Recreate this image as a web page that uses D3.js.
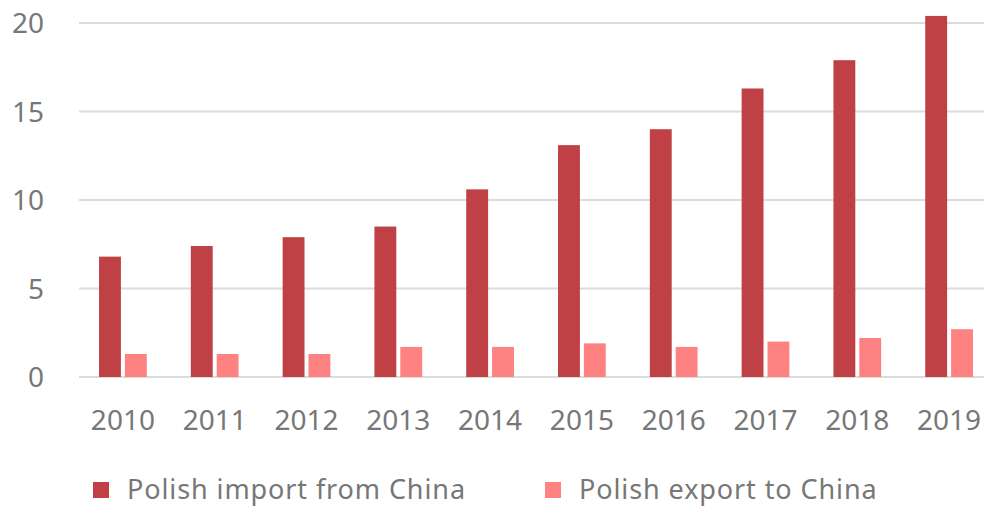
<!DOCTYPE html>
<html>
<head>
<meta charset="utf-8">
<script src="https://cdn.jsdelivr.net/npm/d3@7"></script>
<style>
    body { margin: 0; background: #fff; }
    text { font-family: "Noto Sans", "Open Sans", sans-serif; }
</style>
</head>
<body>
<div id="chart"></div>
<script>
const years = ["2010", "2011", "2012", "2013", "2014", "2015", "2016", "2017", "2018", "2019"];
const importFromChina = [6.8, 7.4, 7.9, 8.5, 10.6, 13.1, 14.0, 16.3, 17.9, 20.4];
const exportToChina = [1.3, 1.3, 1.3, 1.7, 1.7, 1.9, 1.7, 2.0, 2.2, 2.7];
const seriesNames = ["Polish import from China", "Polish export to China"];
const yTicks = [0, 5, 10, 15, 20];

let width = 984, height = 506;
let margin = { top: 23, bottom: 129, left: 77, right: -11 };

const colors = ["#bf4146", "#ff8282"];

const svg = d3.select("#chart")
    .append("svg")
    .attr("width", width)
    .attr("height", height);

const rows = years.map((y, i) => ({ year: y, values: [importFromChina[i], exportToChina[i]] }));

const x0 = d3.scaleBand()
    .domain(years)
    .range([margin.left, width - margin.right])
    .paddingInner(0.48)
    .paddingOuter(0.24);

const x1 = d3.scaleBand()
    .domain([0, 1])
    .range([0, x0.bandwidth()])
    .paddingInner(0.154);

const y = d3.scaleLinear()
    .domain([0, 20])
    .range([height - margin.bottom, margin.top]);

// grid lines
svg.append("g")
    .selectAll("line")
    .data(yTicks)
    .join("line")
    .attr("x1", 79)
    .attr("x2", width)
    .attr("y1", d => y(d))
    .attr("y2", d => y(d))
    .attr("stroke", "#dcdcdc")
    .attr("stroke-width", 2);

// y labels
svg.append("g")
    .selectAll("text")
    .data(yTicks)
    .join("text")
    .attr("x", 44)
    .attr("y", d => y(d) + 10)
    .attr("text-anchor", "end")
    .style("font-size", "28px")
    .style("fill", "#777")
    .text(d => d);

// bars
svg.append("g")
    .selectAll("g")
    .data(rows)
    .join("g")
    .attr("transform", d => `translate(${x0(d.year)},0)`)
    .selectAll("rect")
    .data(d => d.values.map((v, k) => ({ k, v })))
    .join("rect")
    .attr("x", d => x1(d.k))
    .attr("width", x1.bandwidth())
    .attr("y", d => y(d.v))
    .attr("height", d => y(0) - y(d.v))
    .attr("fill", d => colors[d.k]);

// x labels
svg.append("g")
    .selectAll("text")
    .data(years)
    .join("text")
    .attr("x", d => x0(d) + x0.bandwidth() / 2)
    .attr("y", 430)
    .attr("text-anchor", "middle")
    .style("font-size", "28px")
    .style("fill", "#777")
    .text(d => d);

// legend
const legendX = [93, 545];
const legend = svg.append("g")
    .selectAll("g")
    .data(seriesNames)
    .join("g")
    .attr("transform", (d, i) => `translate(${legendX[i]},482)`);

legend.append("rect")
    .attr("width", 16)
    .attr("height", 16)
    .attr("fill", (d, i) => colors[i]);

legend.append("text")
    .attr("x", 34)
    .attr("y", 17)
    .style("font-size", "27px")
    .style("letter-spacing", "0.9px")
    .style("fill", "#777")
    .text(d => d);
</script>
</body>
</html>
